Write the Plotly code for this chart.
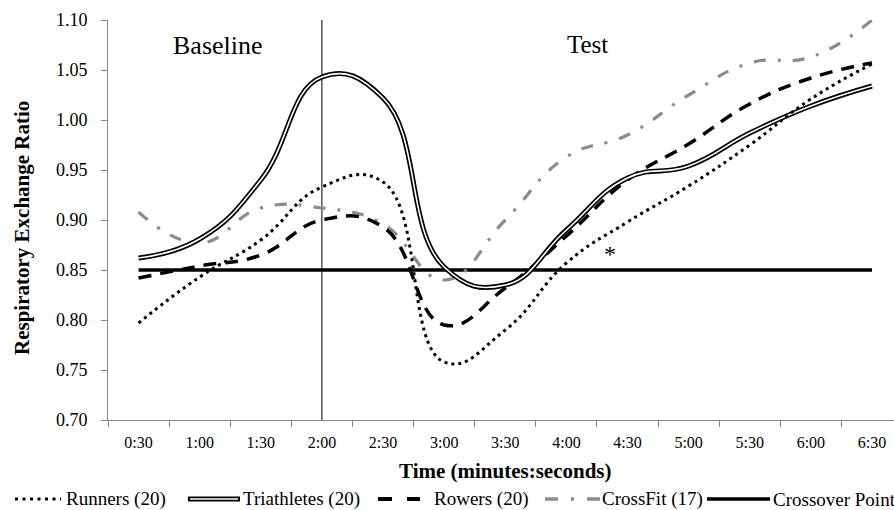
import plotly.graph_objects as go

# ---- data ----
times = ["0:30", "1:00", "1:30", "2:00", "2:30", "3:00", "3:30",
         "4:00", "4:30", "5:00", "5:30", "6:00", "6:30"]
runners = [0.797, 0.843, 0.880, 0.933, 0.938, 0.758, 0.790,
           0.857, 0.898, 0.934, 0.975, 1.021, 1.056]
triathletes = [0.862, 0.881, 0.940, 1.043, 1.022, 0.853, 0.835,
               0.890, 0.942, 0.954, 0.987, 1.014, 1.034]
rowers = [0.842, 0.854, 0.865, 0.900, 0.893, 0.795, 0.832,
          0.884, 0.940, 0.976, 1.016, 1.042, 1.057]
crossfit = [0.908, 0.877, 0.912, 0.912, 0.896, 0.840, 0.900,
            0.963, 0.985, 1.025, 1.057, 1.063, 1.100]
crossover = [0.85] * len(times)
series_names = ["Runners (20)", "Triathletes (20)", "Rowers (20)",
                "CrossFit (17)", "Crossover Point"]
yticks = [0.70, 0.75, 0.80, 0.85, 0.90, 0.95, 1.00, 1.05, 1.10]

FONT = "Liberation Serif, Times New Roman, serif"
GRAY = "#8c8c8c"
AX = "#868686"

W, H = 894, 510
ML, MR, MT, MB = 108, 0, 20, 90
PW, PH = W - ML - MR, H - MT - MB


def px(x):
    return (x - ML) / PW


def py(y):
    return (H - MB - y) / PH


fig = go.Figure()
sm = 1.3
fig.add_trace(go.Scatter(x=times, y=crossover, mode="lines",
                         line=dict(color="black", width=3.5), showlegend=False))
fig.add_trace(go.Scatter(x=times, y=crossfit, mode="lines",
                         line=dict(color=GRAY, width=3.2, dash="12px,12px,3px,12px",
                                   shape="spline", smoothing=sm), showlegend=False))
fig.add_trace(go.Scatter(x=times, y=rowers, mode="lines",
                         line=dict(color="black", width=3.5, dash="13px,9px",
                                   shape="spline", smoothing=sm), showlegend=False))
fig.add_trace(go.Scatter(x=times, y=triathletes, mode="lines",
                         line=dict(color="black", width=5, shape="spline", smoothing=sm),
                         showlegend=False))
fig.add_trace(go.Scatter(x=times, y=triathletes, mode="lines",
                         line=dict(color="white", width=1.6, shape="spline", smoothing=sm),
                         showlegend=False))
fig.add_trace(go.Scatter(x=times, y=runners, mode="lines",
                         line=dict(color="black", width=3, dash="3px,4px",
                                   shape="spline", smoothing=sm), showlegend=False))

shapes = [dict(type="line", xref="x", yref="y", x0=3, x1=3, y0=0.70, y1=1.10,
               line=dict(color="black", width=1), layer="below")]

annotations = [
    dict(text="Baseline", x=1.3, y=1.075, xref="x", yref="y", showarrow=False,
         xanchor="center", yanchor="middle",
         font=dict(family=FONT, size=26, color="black")),
    dict(text="Test", x=7.34, y=1.076, xref="x", yref="y", showarrow=False,
         xanchor="center", yanchor="middle",
         font=dict(family=FONT, size=25, color="black")),
    dict(text="*", x=7.72, y=0.866, xref="x", yref="y", showarrow=False,
         xanchor="center", yanchor="middle",
         font=dict(family=FONT, size=24, color="black")),
    dict(text="<b>Respiratory Exchange Ratio</b>", x=px(22), y=py(228),
         xref="paper", yref="paper", showarrow=False, textangle=-90,
         xanchor="center", yanchor="middle",
         font=dict(family=FONT, size=21, color="black")),
    dict(text="<b>Time (minutes:seconds)</b>", x=px(505), y=py(471),
         xref="paper", yref="paper", showarrow=False,
         xanchor="center", yanchor="middle",
         font=dict(family=FONT, size=21, color="black")),
]

# ---- manual legend ----
LY = py(499)
leg = [
    (15, 61, [dict(color="black", width=3, dash="3px,4.5px")], 64),
    (188, 240, [dict(color="black", width=5), dict(color="white", width=1.6)], 241),
    (378, 420, [dict(color="black", width=4, dash="14px,15px")], 432),
    (545, 600, [dict(color=GRAY, width=3.5, dash="13px,13px,3px,13px")], 600),
    (707, 770, [dict(color="black", width=3.5)], 771),
]
for (x0, x1, styles, tx), name in zip(leg, series_names):
    for i, st in enumerate(styles):
        inset = 2 if i > 0 else 0
        shapes.append(dict(type="line", xref="paper", yref="paper",
                           x0=px(x0 + inset), x1=px(x1 - inset), y0=LY, y1=LY,
                           line=st))
    annotations.append(dict(text=name, x=px(tx), y=LY, xref="paper", yref="paper",
                            xanchor="left", yanchor="middle", showarrow=False,
                            font=dict(family=FONT, size=19, color="black")))

fig.update_layout(
    width=W, height=H,
    margin=dict(l=ML, r=MR, t=MT, b=MB),
    paper_bgcolor="white", plot_bgcolor="white",
    font=dict(family=FONT, color="black"),
    shapes=shapes, annotations=annotations,
    showlegend=False,
)
fig.update_xaxes(type="category", categoryorder="array", categoryarray=times,
                 range=[-0.5, 12.36], tickson="boundaries", ticks="outside",
                 ticklen=6, tickcolor=AX, showline=True, linecolor=AX, linewidth=1,
                 showgrid=False, zeroline=False, ticklabelstandoff=8,
                 tickfont=dict(family=FONT, size=16, color="black"))
fig.update_yaxes(range=[0.70, 1.10], tickvals=yticks,
                 ticktext=[f"{v:.2f}" for v in yticks], ticks="outside",
                 ticklen=6, tickcolor=AX, showline=True, linecolor=AX, linewidth=1,
                 showgrid=False, zeroline=False, ticklabelstandoff=10,
                 tickfont=dict(family=FONT, size=18, color="black"))

fig.write_html("out.html", config={"displayModeBar": False},
               post_script="document.body.style.margin='0';"
                           "document.body.style.overflow='hidden';")
